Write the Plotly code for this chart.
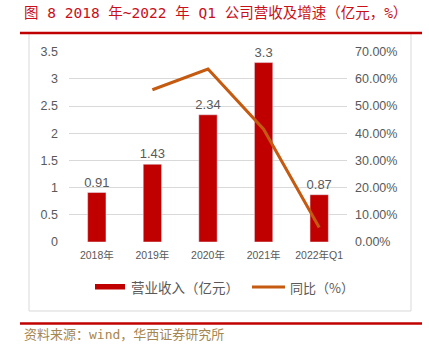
import plotly.graph_objects as go

categories = ["2018年", "2019年", "2020年", "2021年", "2022年Q1"]
revenue = [0.91, 1.43, 2.34, 3.3, 0.87]
growth = [None, 0.56, 0.636, 0.415, 0.053]
left_ticks = [0, 0.5, 1, 1.5, 2, 2.5, 3, 3.5]
right_ticks = [0, 0.1, 0.2, 0.3, 0.4, 0.5, 0.6, 0.7]

W, H = 429, 345
def px(x): return x / W
def py(y): return (H - y) / H

BAR = "#C00000"
LINE = "#C55A11"
GRAY = "#595959"
FONT = "Noto Sans CJK SC, Liberation Sans, sans-serif"
MONO = "DejaVu Sans Mono, Noto Sans CJK SC, monospace"

fig = go.Figure()
fig.add_trace(go.Bar(
    x=categories, y=revenue, marker_color=BAR, width=0.33,
    text=[f"{v:g}" for v in revenue], textposition="outside",
    constraintext="none",
    textfont=dict(color=GRAY, size=13, family="Liberation Sans"),
    cliponaxis=False, showlegend=False, name="营业收入（亿元）"))
fig.add_trace(go.Scatter(
    x=categories, y=growth, mode="lines", yaxis="y2",
    line=dict(color=LINE, width=3), connectgaps=False,
    showlegend=False, name="同比（%）"))

x0, x1 = 69, 347
ytop, ybot = 51.7, 242
fig.update_layout(
    width=W, height=H, margin=dict(l=0, r=0, t=0, b=0),
    paper_bgcolor="white", plot_bgcolor="white",
    xaxis=dict(domain=[px(x0), px(x1)], showgrid=False, showline=False,
               tickfont=dict(size=10.5, color=GRAY, family="Liberation Sans, Noto Sans CJK SC"),
               ticks="", ticklabelstandoff=5, automargin=False),
    yaxis=dict(domain=[py(ybot), py(ytop)], range=[0, 3.5], tickvals=left_ticks,
               ticktext=[f"{v:g}" for v in left_ticks],
               showgrid=True, gridcolor="#D9D9D9", gridwidth=1, zeroline=False,
               tickfont=dict(size=12.5, color=GRAY, family="Liberation Sans"),
               ticklabelstandoff=10, automargin=False),
    yaxis2=dict(overlaying="y", side="right", range=[0, 0.7], tickvals=right_ticks,
                tickformat=".2%", showgrid=False, zeroline=False,
                tickfont=dict(size=12.5, color=GRAY, family="Liberation Sans"),
                ticklabelstandoff=7, automargin=False),
)

shapes = [
    dict(type="rect", xref="paper", yref="paper", x0=px(29), x1=px(411), y0=py(311), y1=py(33),
         line=dict(color="#D9D9D9", width=1), fillcolor="rgba(0,0,0,0)", layer="below"),
    dict(type="line", xref="paper", yref="paper", x0=px(20), x1=px(422), y0=py(33), y1=py(33),
         line=dict(color="#C00000", width=2.5)),
    dict(type="line", xref="paper", yref="paper", x0=px(20), x1=px(422), y0=py(323.5), y1=py(323.5),
         line=dict(color="#C00000", width=2.5)),
    dict(type="rect", xref="paper", yref="paper", x0=px(95), x1=px(125), y0=py(289.5), y1=py(284),
         line=dict(width=0), fillcolor=BAR),
    dict(type="line", xref="paper", yref="paper", x0=px(252), x1=px(285), y0=py(287), y1=py(287),
         line=dict(color=LINE, width=3)),
]
fig.update_layout(shapes=shapes)

annotations = [
    dict(text="图 8 2018 年~2022 年 Q1 公司营收及增速（亿元，%）", x=px(22), y=py(13),
         xref="paper", yref="paper", xanchor="left", yanchor="middle", showarrow=False,
         font=dict(size=14.5, color="#C8101A", family=MONO)),
    dict(text="营业收入（亿元）", x=px(129), y=py(287), xref="paper", yref="paper",
         xanchor="left", yanchor="middle", showarrow=False,
         font=dict(size=13.5, color=GRAY, family=FONT)),
    dict(text="同比（%）", x=px(288), y=py(287), xref="paper", yref="paper",
         xanchor="left", yanchor="middle", showarrow=False,
         font=dict(size=13, color=GRAY, family=FONT)),
    dict(text="资料来源：wind，华西证券研究所", x=px(22), y=py(334), xref="paper", yref="paper",
         xanchor="left", yanchor="middle", showarrow=False,
         font=dict(size=13, color="#A6864F", family=MONO)),
]
fig.update_layout(annotations=annotations)

fig.write_html("out.html")
